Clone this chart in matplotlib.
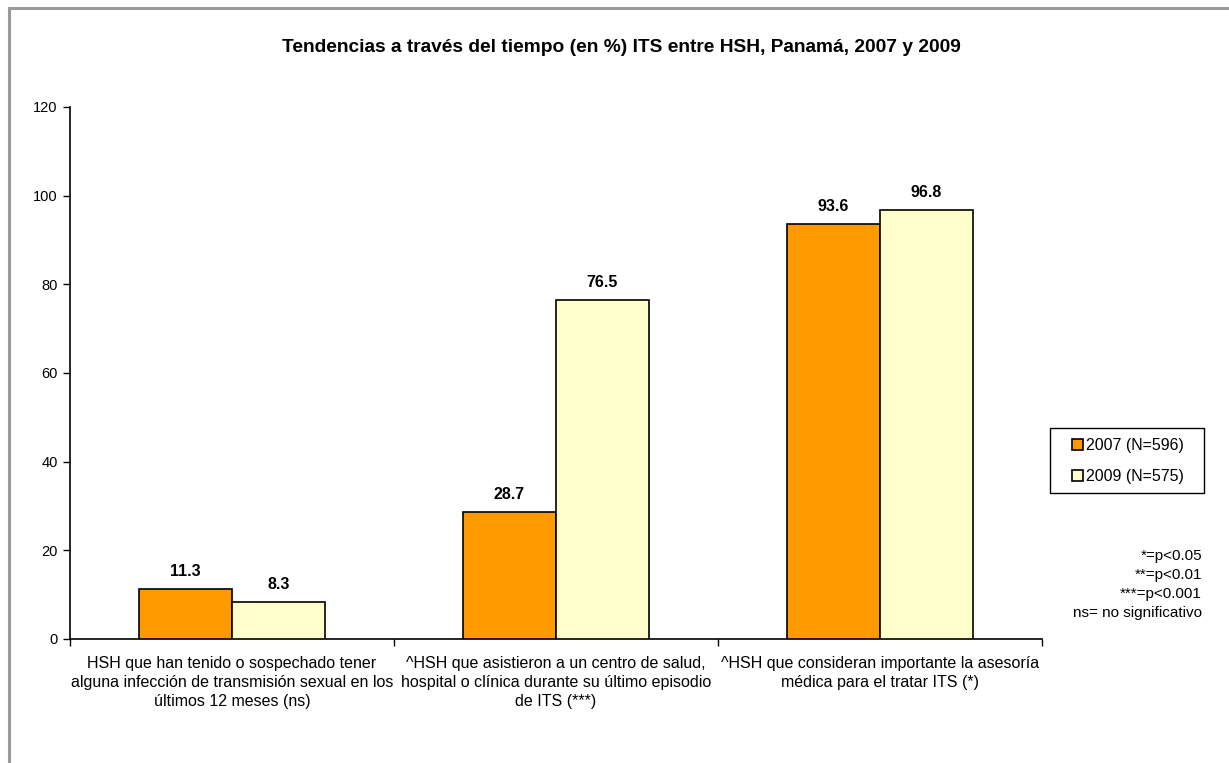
import matplotlib
matplotlib.use("Agg")
import matplotlib.pyplot as plt
from matplotlib.patches import Rectangle, Patch
import numpy as np

plt.rcParams['font.family'] = ['Liberation Sans', 'DejaVu Sans']

title = "Tendencias a través del tiempo (en %) ITS entre HSH, Panamá, 2007 y 2009"
categories = [
    "HSH que han tenido o sospechado tener\nalguna infección de transmisión sexual en los\núltimos 12 meses (ns)",
    "^HSH que asistieron a un centro de salud,\nhospital o clínica durante su último episodio\nde ITS (***)",
    "^HSH que consideran importante la asesoría\nmédica para el tratar ITS (*)",
]
series_names = ["2007 (N=596)", "2009 (N=575)"]
values_2007 = [11.3, 28.7, 93.6]
values_2009 = [8.3, 76.5, 96.8]
yticks = [0, 20, 40, 60, 80, 100, 120]
notes = "*=p<0.05\n**=p<0.01\n***=p<0.001\nns= no significativo"

colors = ["#FF9900", "#FFFFCC"]

W, H = 1229, 763
fig = plt.figure(figsize=(W / 100, H / 100), dpi=100)
ax = fig.add_axes([70 / W, 1 - 639 / H, (1042 - 70) / W, (639 - 107) / H])

# outer border
fig.patches.append(Rectangle((9 / W, -0.05), 1.2, 1 - 8 / H + 0.05, transform=fig.transFigure,
                             fill=False, edgecolor="#9a9a9a", linewidth=2.2, zorder=0))

x = np.arange(len(categories)) + 0.5
bw = 0.287
for i, (vals, name) in enumerate(zip([values_2007, values_2009], series_names)):
    pos = x + (i - 0.5) * bw
    bars = ax.bar(pos, vals, width=bw, color=colors[i], edgecolor="black", linewidth=1.2,
                  label=name, zorder=3)
    for b, v in zip(bars, vals):
        ax.annotate(f"{v:.1f}", (b.get_x() + b.get_width() / 2, v), xytext=(0, 7),
                    textcoords="offset points", ha="center", va="bottom",
                    fontsize=11.5, fontweight="bold")

ax.set_xlim(0, len(categories))
ax.set_ylim(0, 120)
ax.set_yticks(yticks)
ax.set_yticklabels([str(t) for t in yticks], fontsize=10.5)
ax.set_xticks(np.arange(len(categories) + 1))
ax.set_xticklabels([])
ax.set_xticks(x, minor=True)
ax.set_xticklabels(categories, minor=True, fontsize=11.5, linespacing=1.33)
ax.tick_params(axis="x", which="minor", length=0, pad=12)
ax.tick_params(axis="x", which="major", length=5, direction="out", width=1)
ax.tick_params(axis="y", length=5, direction="out", width=1, pad=4)
for s in ["top", "right"]:
    ax.spines[s].set_visible(False)
for s in ["left", "bottom"]:
    ax.spines[s].set_linewidth(1.2)

fig.suptitle(title, x=621 / W, y=1 - 47 / H, va="center", fontsize=13.8, fontweight="bold")

# legend with a manual frame
fig.patches.append(Rectangle((1050 / W, 1 - 493 / H), 154 / W, 65 / H, transform=fig.transFigure,
                             fill=False, edgecolor="black", linewidth=1.0, zorder=5))
handles = [Patch(facecolor=colors[i], edgecolor="black", linewidth=1.2) for i in range(2)]
leg = fig.legend(handles, series_names, loc="center left",
                 bbox_to_anchor=(1072 / W, 1 - 461 / H), fontsize=11.5, frameon=False,
                 handlelength=0.7, handleheight=0.7,
                 handletextpad=0.2, labelspacing=1.0, borderpad=0, borderaxespad=0)

fig.text(1202 / W, 1 - 549 / H, notes, ha="right", va="top", fontsize=11, linespacing=1.45)

fig.savefig("out.png", dpi=100)
